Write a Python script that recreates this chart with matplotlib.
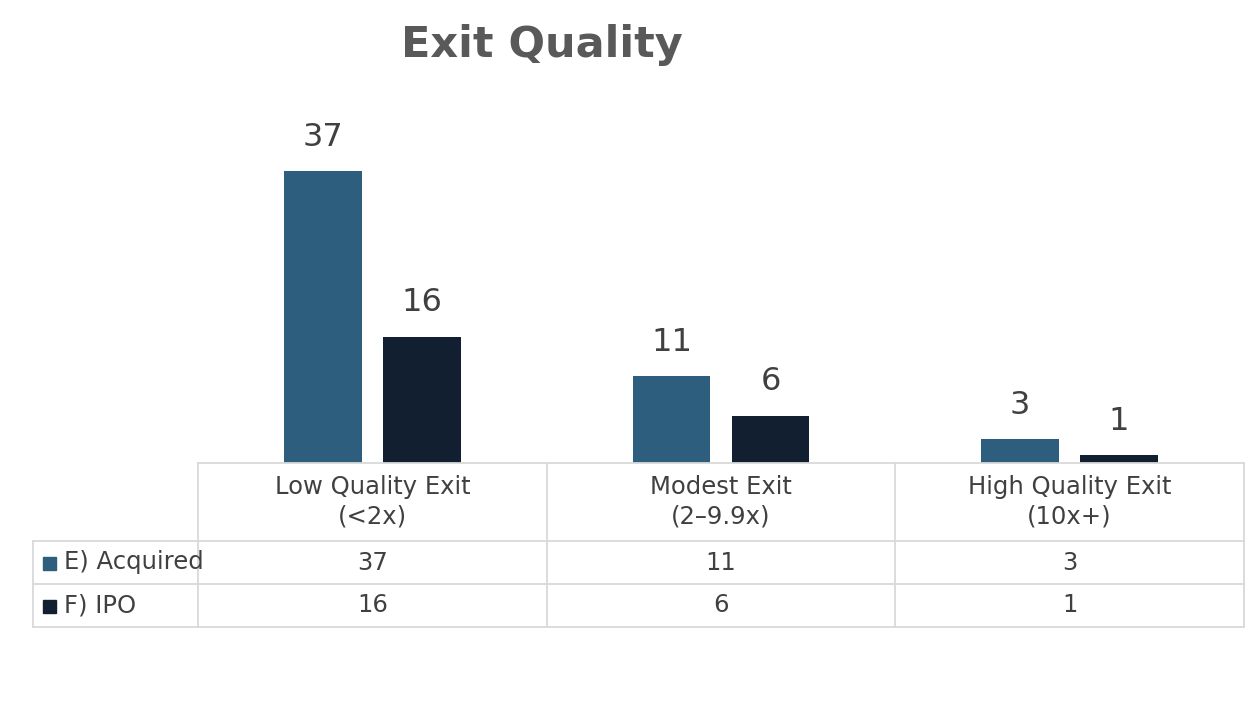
import numpy as np
import matplotlib.pyplot as plt
from matplotlib.patches import Rectangle

# chart data
categories = ['Low Quality Exit\n(<2x)', 'Modest Exit\n(2–9.9x)', 'High Quality Exit\n(10x+)']
series_names = ['E) Acquired', 'F) IPO']
acquired = [37, 11, 3]
ipo = [16, 6, 1]
colors = ['#2E5E7E', '#121F30']

W, H = 1246, 704
fig = plt.figure(figsize=(W / 100, H / 100), dpi=100)
plt.rcParams['font.family'] = ['DejaVu Sans']

# plot area (pixels)
left, right, base, top = 198, 1244, 463, 147
ax = fig.add_axes([left / W, (H - base) / H, (right - left) / W, (base - top) / H])
x = np.arange(len(categories))
bw = 0.2235
off = 0.142
for vals, col, sgn in [(acquired, colors[0], -1), (ipo, colors[1], 1)]:
    bars = ax.bar(x + sgn * off, vals, width=bw, color=col, zorder=3)
    for b, v in zip(bars, vals):
        ax.text(b.get_x() + b.get_width() / 2, v + 2.3, str(v), ha='center', va='bottom',
                fontsize=23, color='#404040', clip_on=False)
ax.set_xlim(-0.5, len(categories) - 0.5)
ax.set_ylim(0, 40)
ax.axis('off')

fig.text(542 / W, 1 - 45 / H, 'Exit Quality', ha='center', va='center',
         fontsize=31, fontweight='bold', color='#595959')

# data table below the plot area, drawn in pixel coordinates
tab = fig.add_axes([0, 0, 1, 1])
tab.set_xlim(0, W)
tab.set_ylim(H, 0)
tab.axis('off')
lc = '#D9D9D9'
lw = 1.3
col_w = (right - left) / len(categories)
row_y = [463, 541, 584, 627]
label_x0 = 33
# horizontals
tab.plot([left, right], [row_y[0]] * 2, color=lc, lw=lw)
for yy in row_y[1:]:
    tab.plot([label_x0, right], [yy] * 2, color=lc, lw=lw)
# verticals
tab.plot([label_x0] * 2, [row_y[1], row_y[3]], color=lc, lw=lw)
for i in range(len(categories) + 1):
    xx = left + i * col_w
    tab.plot([xx] * 2, [row_y[0], row_y[3]], color=lc, lw=lw)

txt = '#404040'
fs = 17.5
for i, cat in enumerate(categories):
    cx = left + (i + 0.5) * col_w
    tab.text(cx, (row_y[0] + row_y[1]) / 2, cat, ha='center', va='center',
             fontsize=fs, color=txt, linespacing=1.3)
for r, (name, vals, col) in enumerate(zip(series_names, [acquired, ipo], colors)):
    cy = (row_y[r + 1] + row_y[r + 2]) / 2
    tab.add_patch(Rectangle((43, cy - 6), 13, 13, color=col))
    tab.text(64, cy, name, ha='left', va='center', fontsize=fs, color=txt)
    for i, v in enumerate(vals):
        tab.text(left + (i + 0.5) * col_w, cy, str(v), ha='center', va='center',
                 fontsize=fs, color=txt)

fig.savefig('out.png', dpi=100)
